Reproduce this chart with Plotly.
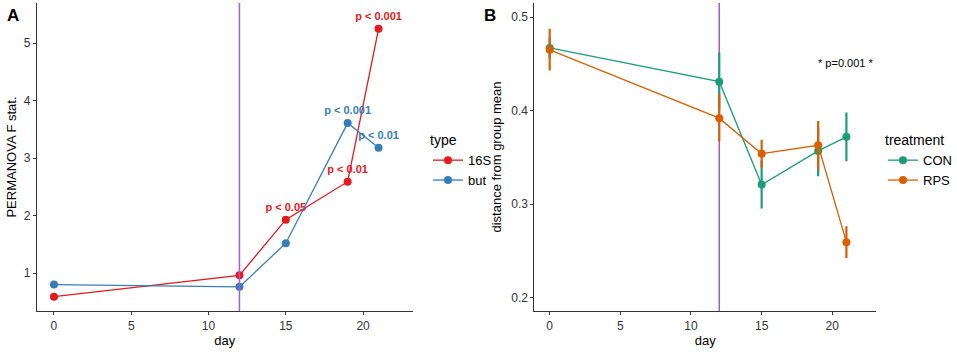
import plotly.graph_objects as go

# ---------------- data ----------------
days = [0, 12, 15, 19, 21]
treatment_day = 12

# Panel A: PERMANOVA F statistic
f_16s = [0.59, 0.96, 1.93, 2.59, 5.25]
f_but = [0.80, 0.76, 1.52, 3.61, 3.18]
p_16s = ["", "", "p < 0.05", "p < 0.01", "p < 0.001"]
p_but = ["", "", "", "p < 0.001", "p < 0.01"]

# Panel B: distance from group mean (mean, upper, lower)
con_mean = [0.467, 0.431, 0.321, 0.357, 0.372]
con_hi = [0.478, 0.462, 0.347, 0.383, 0.398]
con_lo = [0.456, 0.400, 0.2955, 0.330, 0.346]
rps_mean = [0.465, 0.392, 0.354, 0.363, 0.2595]
rps_hi = [0.4875, 0.418, 0.369, 0.389, 0.2765]
rps_lo = [0.443, 0.367, 0.339, 0.337, 0.2425]
p_text = "* p=0.001 *"
p_text_pos = (20.9, 0.4514)

# ---------------- style ----------------
RED, BLUE = "#E41A1C", "#377EB8"
GREEN, ORANGE = "#1B9E77", "#D95F02"
PURPLE = "#A35BD8"
FONT = "Liberation Sans, Arial, sans-serif"
W, H = 957, 356


def px_x(p):
    return p / W


def px_y(p):
    return 1 - p / H


fig = go.Figure()

# Panel A traces
fig.add_trace(go.Scatter(
    x=days, y=f_16s, mode="lines+markers+text", name="16S",
    text=p_16s, textposition="top center",
    textfont=dict(color=RED, size=11, family=FONT, weight="bold"),
    line=dict(color=RED, width=1.3), marker=dict(color=RED, size=8),
    cliponaxis=False, xaxis="x", yaxis="y", legend="legend"))
fig.add_trace(go.Scatter(
    x=days, y=f_but, mode="lines+markers+text", name="but",
    text=p_but, textposition="top center",
    textfont=dict(color=BLUE, size=11, family=FONT, weight="bold"),
    line=dict(color=BLUE, width=1.3), marker=dict(color=BLUE, size=8),
    cliponaxis=False, xaxis="x", yaxis="y", legend="legend"))

# Panel B traces
def err(mean, hi, lo):
    return dict(type="data", symmetric=False,
                array=[h - m for h, m in zip(hi, mean)],
                arrayminus=[m - l for m, l in zip(mean, lo)],
                width=0, thickness=2.2)

fig.add_trace(go.Scatter(
    x=days, y=con_mean, mode="lines+markers", name="CON",
    error_y=dict(color=GREEN, **err(con_mean, con_hi, con_lo)),
    line=dict(color=GREEN, width=1.3), marker=dict(color=GREEN, size=8),
    xaxis="x2", yaxis="y2", legend="legend2"))
fig.add_trace(go.Scatter(
    x=days, y=rps_mean, mode="lines+markers", name="RPS",
    error_y=dict(color=ORANGE, **err(rps_mean, rps_hi, rps_lo)),
    line=dict(color=ORANGE, width=1.3), marker=dict(color=ORANGE, size=8),
    xaxis="x2", yaxis="y2", legend="legend2"))

# vertical treatment lines
fig.add_shape(type="line", xref="x", yref="y domain", x0=treatment_day, x1=treatment_day,
              y0=0, y1=1, line=dict(color=PURPLE, width=1.5), layer="above")
fig.add_shape(type="line", xref="x2", yref="y2 domain", x0=treatment_day, x1=treatment_day,
              y0=0, y1=1, line=dict(color=PURPLE, width=1.5), layer="below")

# annotations
fig.add_annotation(x=p_text_pos[0], y=p_text_pos[1], xref="x2", yref="y2", text=p_text,
                   showarrow=False, font=dict(size=11, color="black", family=FONT))
fig.add_annotation(x=px_x(5), y=px_y(4), xref="paper", yref="paper", text="<b>A</b>",
                   showarrow=False, xanchor="left", yanchor="top",
                   font=dict(size=17, color="black", family=FONT))
fig.add_annotation(x=px_x(483), y=px_y(4), xref="paper", yref="paper", text="<b>B</b>",
                   showarrow=False, xanchor="left", yanchor="top",
                   font=dict(size=17, color="black", family=FONT))

ydom = [px_y(311), px_y(3)]
axis_common = dict(showline=True, linecolor="#333333", linewidth=1.2, showgrid=False,
                   zeroline=False, ticks="outside", ticklen=3, tickcolor="#333333",
                   tickwidth=1, tickfont=dict(size=12, color="#333333", family=FONT))

fig.update_layout(
    width=W, height=H, margin=dict(l=0, r=0, t=0, b=0),
    paper_bgcolor="white", plot_bgcolor="white",
    font=dict(family=FONT, color="black"),
    xaxis=dict(domain=[px_x(37), px_x(413)], range=[-1.1, 23.2],
               tickvals=[0, 5, 10, 15, 20], anchor="y",
               title=dict(text="day", font=dict(size=13), standoff=4), **axis_common),
    yaxis=dict(domain=ydom, range=[0.34, 5.70], tickvals=[1, 2, 3, 4, 5], anchor="x",
               title=dict(text="PERMANOVA F stat.", font=dict(size=13), standoff=4),
               **axis_common),
    xaxis2=dict(domain=[px_x(535), px_x(877)], range=[-1.08, 23.1],
                tickvals=[0, 5, 10, 15, 20], anchor="y2",
                title=dict(text="day", font=dict(size=13), standoff=4), **axis_common),
    yaxis2=dict(domain=ydom, range=[0.186, 0.515], tickvals=[0.2, 0.3, 0.4, 0.5],
                tickformat=".1f", anchor="x2",
                title=dict(text="distance from group mean", font=dict(size=13), standoff=6),
                **axis_common),
    legend=dict(x=px_x(428), y=px_y(127), xanchor="left", yanchor="top",
                title=dict(text="type", font=dict(size=14)), font=dict(size=13),
                bgcolor="rgba(0,0,0,0)", itemwidth=30, tracegroupgap=0),
    legend2=dict(x=px_x(884), y=px_y(127), xanchor="left", yanchor="top",
                 title=dict(text="treatment", font=dict(size=14)), font=dict(size=13),
                 bgcolor="rgba(0,0,0,0)", itemwidth=30, tracegroupgap=0),
    showlegend=True,
)

fig.write_html("out.html", config={"displayModeBar": False},
               post_script="document.body.style.margin='0';")
